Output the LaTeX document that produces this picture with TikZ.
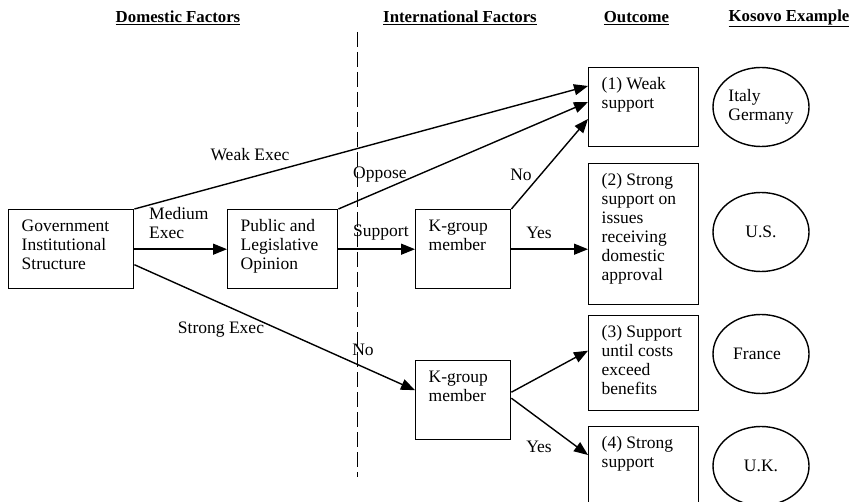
\documentclass[tikz,border=0pt]{standalone}
\usepackage{fontspec}
\setmainfont{Liberation Serif}
\usetikzlibrary{arrows.meta,shapes.geometric}
\newcommand\bxtext[3]{\parbox[c][\dimexpr#2-20pt\relax][t]{\dimexpr#1-26pt\relax}{\raggedright#3}}
\begin{document}
\begin{tikzpicture}[x=1pt,y=-1pt,
  every node/.style={font=\fontsize{17.5}{19}\selectfont},
  box/.style={draw,line width=1.4pt,rectangle,inner xsep=13pt,inner ysep=10pt,anchor=north west},
  oval/.style={draw,line width=1.4pt,ellipse,minimum width=96pt,minimum height=79pt,inner sep=0pt,align=left},
  head/.style={font=\fontsize{16.8}{19}\selectfont\bfseries},
  lbl/.style={inner sep=0pt},
  conn/.style={line width=1.4pt,-{Triangle[length=14pt,width=11pt]}},
  plain/.style={line width=1.4pt}]
\useasboundingbox (0,0) rectangle (853,502);
% headers
\node[head] (h1) at (178,18) {\underline{Domestic Factors}};
\node[head] (h2) at (460,18) {\underline{International Factors}};
\node[head] (h3) at (636.5,18) {\underline{Outcome}};
\node[head] (h4) at (789,18) {\underline{Kosovo Example}};
% dashed divider
\coordinate (d1) at (357,32);
\coordinate (d2) at (357,477);
\draw[line width=0.8pt,dash pattern=on 15pt off 5pt] (d1) -- (d2);
% boxes
\node[box] (gov) at (8,209) {\bxtext{125pt}{79pt}{Government\\Institutional\\Structure}};
\node[box] (pub) at (227,209) {\bxtext{110pt}{79pt}{Public and\\Legislative\\Opinion}};
\node[box] (k1) at (415,209) {\bxtext{95pt}{79pt}{K-group\\member}};
\node[box] (k2) at (415,360) {\bxtext{95pt}{79pt}{K-group\\member}};
\node[box] (b1) at (588,67) {\bxtext{110pt}{79pt}{(1) Weak\\support}};
\node[box] (b2) at (588,163) {\bxtext{110pt}{141pt}{(2) Strong\\support on\\issues\\receiving\\domestic\\approval}};
\node[box] (b3) at (588,315) {\bxtext{110pt}{95pt}{(3) Support\\until costs\\exceed\\benefits}};
\node[box] (b4) at (588,426) {\bxtext{110pt}{80pt}{(4) Strong\\support}};
% ovals
\node[oval] (e1) at (761,107) {Italy\\Germany};
\node[oval] (e2) at (761,232) {U.S.};
\node[oval] (e3) at (761,354) {France\hspace*{8pt}};
\node[oval] (e4) at (761,466) {U.K.};
% connectors
\draw[conn] (gov.north east) -- ([yshift=-19pt]b1.north west);
\draw[conn] (pub.north east) -- ([yshift=-35pt]b1.north west);
\draw[conn] (k1.north east) -- ([yshift=-52pt]b1.north west);
\draw[conn] (gov.east) -- (pub.west);
\draw[conn] (pub.east) -- (k1.west);
\draw[conn] (k1.east) -- (k1.east -| b2.west);
\draw[conn] ([yshift=-15.5pt]gov.east) -- ([yshift=10pt]k2.west);
\draw[conn] ([yshift=8pt]k2.east) -- ([yshift=12.5pt]b3.west);
\draw[conn] ([yshift=2pt]k2.east) -- ([yshift=-29pt]b4.north west);
% labels
\node[lbl] (l1) at (250,155) {Weak Exec};
\node[lbl,anchor=west,align=left] (l2) at (149,223.5) {Medium\\Exec};
\node[lbl,anchor=west] (l3) at (353,175) {Oppose};
\node[lbl,anchor=west] (l4) at (353,233) {Support};
\node[lbl] (l5) at (521,175) {No};
\node[lbl] (l6) at (539,233) {Yes};
\node[lbl] (l7) at (221,330) {Strong Exec};
\node[lbl] (l8) at (363,350) {No};
\node[lbl] (l9) at (539,447) {Yes};
\end{tikzpicture}
\end{document}
